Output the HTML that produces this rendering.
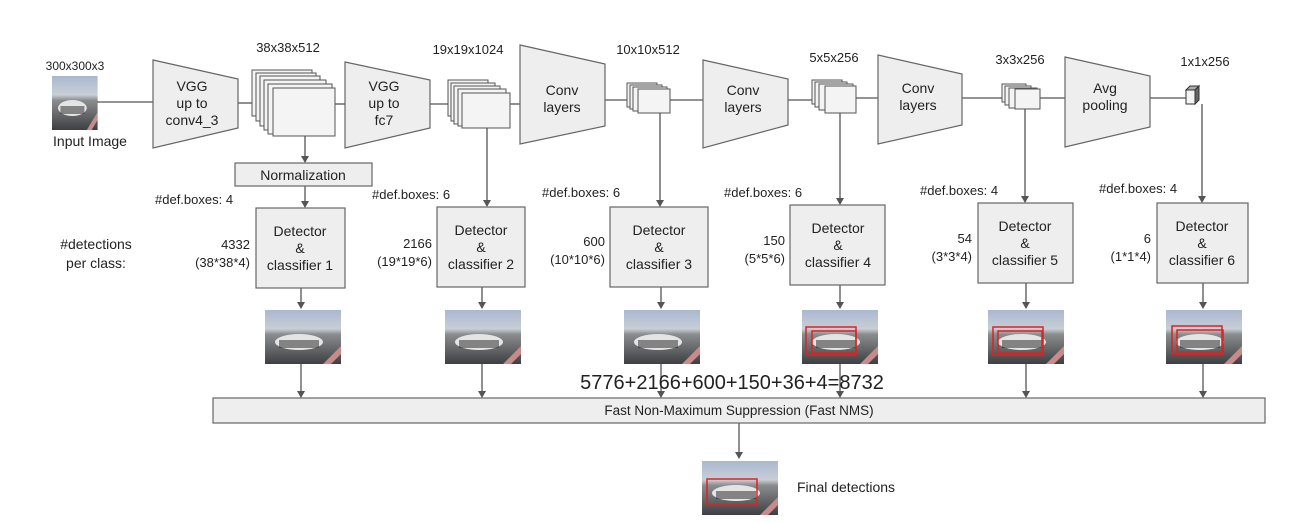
<!DOCTYPE html>
<html><head><meta charset="utf-8"><style>
html,body{margin:0;padding:0;background:#fff;}
svg{display:block;font-family:"Liberation Sans",Arial,sans-serif;}
</style></head><body>
<svg width="1302" height="522" viewBox="0 0 1302 522" xmlns="http://www.w3.org/2000/svg">
<defs>
<marker id="ar" markerWidth="8" markerHeight="8" refX="6" refY="4" orient="auto" markerUnits="userSpaceOnUse"><path d="M0,0 L7,4 L0,8 z" fill="#555"/></marker>
<linearGradient id="sky" x1="0" y1="0" x2="0" y2="1"><stop offset="0" stop-color="#a9b8d0"/><stop offset="0.35" stop-color="#c9ced6"/><stop offset="0.45" stop-color="#8a8c8e"/><stop offset="1" stop-color="#3d3f42"/></linearGradient>
<g id="photo">
<rect x="0" y="0" width="76" height="54" fill="url(#sky)"/>
<ellipse cx="34" cy="32" rx="24" ry="8" fill="#e4e4e4"/>
<rect x="14" y="30" width="40" height="8" fill="#222" opacity="0.5"/>
<path d="M58 54 L76 36 L76 44 L66 54z" fill="#c98a8a"/>
</g>
</defs>
<g fill="#222" font-size="13">
<!-- input -->
<text x="75" y="70" text-anchor="middle" font-size="12">300x300x3</text>
<use href="#photo" transform="translate(52,76) scale(0.6,1)"/>
<text x="90" y="146" text-anchor="middle" font-size="14">Input Image</text>
</g>
<g stroke="#555" stroke-width="1.3" fill="none">
<line x1="97" y1="102" x2="153" y2="102"/>
<line x1="238" y1="103" x2="252" y2="103"/>
<line x1="334" y1="104" x2="345" y2="104"/>
<line x1="430" y1="104" x2="448" y2="104"/>
<line x1="510" y1="104" x2="520" y2="104"/>
<line x1="605" y1="100" x2="627" y2="100"/>
<line x1="670" y1="100" x2="703" y2="100"/>
<line x1="788" y1="100" x2="812" y2="100"/>
<line x1="856" y1="98" x2="878" y2="98"/>
<line x1="962" y1="98" x2="1002" y2="98"/>
<line x1="1040" y1="98" x2="1065" y2="98"/>
<line x1="1150" y1="98" x2="1186" y2="98"/>
</g>
<!-- trapezoids -->
<g fill="#eeeeee" stroke="#666" stroke-width="1.2">
<polygon points="153,60 238,79 238,128 153,148"/>
<polygon points="345,62 430,80 430,128 345,148"/>
<polygon points="520,45 605,64 605,126 520,144"/>
<polygon points="703,60 788,79 788,125 703,148"/>
<polygon points="878,55 962,74 962,125 878,144"/>
<polygon points="1065,57 1150,76 1150,127 1065,147"/>
</g>
<g fill="#222" font-size="14" text-anchor="middle">
<text x="192" y="91">VGG</text><text x="192" y="108">up to</text><text x="192" y="125">conv4_3</text>
<text x="384" y="91">VGG</text><text x="384" y="108">up to</text><text x="384" y="125">fc7</text>
<text x="562" y="95">Conv</text><text x="562" y="112">layers</text>
<text x="743" y="95">Conv</text><text x="743" y="112">layers</text>
<text x="918" y="93">Conv</text><text x="918" y="110">layers</text>
<text x="1105" y="93">Avg</text><text x="1105" y="110">pooling</text>
</g>
<!-- stacks -->
<g fill="#f4f4f4" stroke="#555" stroke-width="1">
<rect x="252" y="70" width="60" height="46"/><rect x="256" y="73" width="60" height="48"/><rect x="260" y="76" width="60" height="50"/><rect x="264" y="80" width="62" height="50"/><rect x="268" y="84" width="64" height="50"/><rect x="273" y="88" width="62" height="48"/>
<rect x="448" y="80" width="40" height="36"/><rect x="451" y="83" width="44" height="38"/><rect x="454" y="86" width="46" height="38"/><rect x="458" y="89" width="48" height="37"/><rect x="462" y="93" width="48" height="35"/>
<rect x="627" y="83" width="30" height="24"/><rect x="630" y="85" width="32" height="24"/><rect x="633" y="87" width="34" height="24"/><rect x="638" y="89" width="32" height="24"/>
<rect x="812" y="80" width="30" height="24"/><rect x="815" y="82" width="32" height="25"/><rect x="819" y="84" width="34" height="26"/><rect x="825" y="86" width="31" height="27"/>
<rect x="1002" y="84" width="24" height="18"/><rect x="1005" y="86" width="26" height="19"/><rect x="1009" y="88" width="28" height="20"/><rect x="1015" y="89" width="25" height="20"/>
</g>
<g stroke="#333" stroke-width="1">
<polygon points="1186,90 1190,86 1199,86 1195,90" fill="#aaa"/>
<polygon points="1195,90 1199,86 1199,100 1195,104" fill="#666"/>
<rect x="1186" y="90" width="9" height="14" fill="#f4f4f4"/>
</g>
<g fill="#222" font-size="13" text-anchor="middle">
<text x="288" y="52">38x38x512</text>
<text x="468" y="54">19x19x1024</text>
<text x="648" y="54">10x10x512</text>
<text x="834" y="62">5x5x256</text>
<text x="1020" y="64">3x3x256</text>
<text x="1205" y="66">1x1x256</text>
</g>
<!-- vertical connectors -->
<g stroke="#555" stroke-width="1.3" marker-end="url(#ar)">
<line x1="305" y1="136" x2="305" y2="162"/>
<line x1="305" y1="186" x2="305" y2="207"/>
<line x1="487" y1="128" x2="487" y2="206"/>
<line x1="660" y1="113" x2="660" y2="206"/>
<line x1="840" y1="113" x2="840" y2="204"/>
<line x1="1025" y1="109" x2="1025" y2="202"/>
<line x1="1202" y1="104" x2="1202" y2="202"/>
<line x1="301" y1="288" x2="301" y2="308"/>
<line x1="482" y1="287" x2="482" y2="308"/>
<line x1="661" y1="287" x2="661" y2="308"/>
<line x1="840" y1="285" x2="840" y2="308"/>
<line x1="1026" y1="283" x2="1026" y2="308"/>
<line x1="1203" y1="283" x2="1203" y2="308"/>
<line x1="301" y1="363" x2="301" y2="397"/>
<line x1="482" y1="363" x2="482" y2="397"/>
<line x1="661" y1="363" x2="661" y2="397"/>
<line x1="840" y1="363" x2="840" y2="397"/>
<line x1="1026" y1="363" x2="1026" y2="397"/>
<line x1="1203" y1="363" x2="1203" y2="397"/>
<line x1="739" y1="423" x2="739" y2="458"/>
</g>
<!-- boxes -->
<g fill="#eeeeee" stroke="#666" stroke-width="1.2">
<rect x="235" y="163" width="137" height="23"/>
<rect x="256" y="208" width="89" height="80"/>
<rect x="437" y="207" width="88" height="80"/>
<rect x="610" y="207" width="98" height="80"/>
<rect x="790" y="205" width="95" height="80"/>
<rect x="978" y="203" width="95" height="80"/>
<rect x="1157" y="203" width="91" height="80"/>
<rect x="213" y="398" width="1052" height="25"/>
</g>
<g fill="#222" font-size="14" text-anchor="middle">
<text x="303" y="180">Normalization</text>
<text x="300" y="236">Detector</text><text x="300" y="253">&amp;</text><text x="300" y="270">classifier 1</text>
<text x="481" y="235">Detector</text><text x="481" y="252">&amp;</text><text x="481" y="269">classifier 2</text>
<text x="659" y="235">Detector</text><text x="659" y="252">&amp;</text><text x="659" y="269">classifier 3</text>
<text x="838" y="233">Detector</text><text x="838" y="250">&amp;</text><text x="838" y="267">classifier 4</text>
<text x="1025" y="231">Detector</text><text x="1025" y="248">&amp;</text><text x="1025" y="265">classifier 5</text>
<text x="1202" y="231">Detector</text><text x="1202" y="248">&amp;</text><text x="1202" y="265">classifier 6</text>
<text x="739" y="415" font-size="13.5">Fast Non-Maximum Suppression (Fast NMS)</text>
<text x="732" y="389" font-size="20">5776+2166+600+150+36+4=8732</text>
</g>
<g fill="#222" font-size="13">
<text x="155" y="204">#def.boxes: 4</text>
<text x="372" y="199">#def.boxes: 6</text>
<text x="542" y="197">#def.boxes: 6</text>
<text x="724" y="197">#def.boxes: 6</text>
<text x="920" y="195">#def.boxes: 4</text>
<text x="1099" y="193">#def.boxes: 4</text>
<text x="96" y="249" text-anchor="middle" font-size="14">#detections</text>
<text x="96" y="268" text-anchor="middle" font-size="14">per class:</text>
</g>
<g fill="#222" font-size="13" text-anchor="end">
<text x="250" y="249">4332</text><text x="250" y="267">(38*38*4)</text>
<text x="432" y="248">2166</text><text x="432" y="266">(19*19*6)</text>
<text x="605" y="246">600</text><text x="605" y="264">(10*10*6)</text>
<text x="785" y="245">150</text><text x="785" y="263">(5*5*6)</text>
<text x="972" y="243">54</text><text x="972" y="261">(3*3*4)</text>
<text x="1151" y="243">6</text><text x="1151" y="261">(1*1*4)</text>
</g>
<!-- photos -->
<use href="#photo" transform="translate(265,310)"/>
<use href="#photo" transform="translate(445,310)"/>
<use href="#photo" transform="translate(624,310)"/>
<use href="#photo" transform="translate(802,310)"/>
<use href="#photo" transform="translate(988,310)"/>
<use href="#photo" transform="translate(1166,310)"/>
<use href="#photo" transform="translate(702,461)"/>
<g fill="none" stroke="#d22" stroke-width="1.5">
<rect x="806" y="327" width="50" height="28"/><rect x="812" y="331" width="44" height="22"/>
<rect x="993" y="327" width="50" height="28"/><rect x="998" y="331" width="44" height="22"/>
<rect x="1172" y="326" width="50" height="28"/><rect x="1177" y="330" width="46" height="22"/>
<rect x="707" y="479" width="50" height="26"/>
</g>
<text x="797" y="492" font-size="14" fill="#222">Final detections</text>
</svg>
</body></html>
